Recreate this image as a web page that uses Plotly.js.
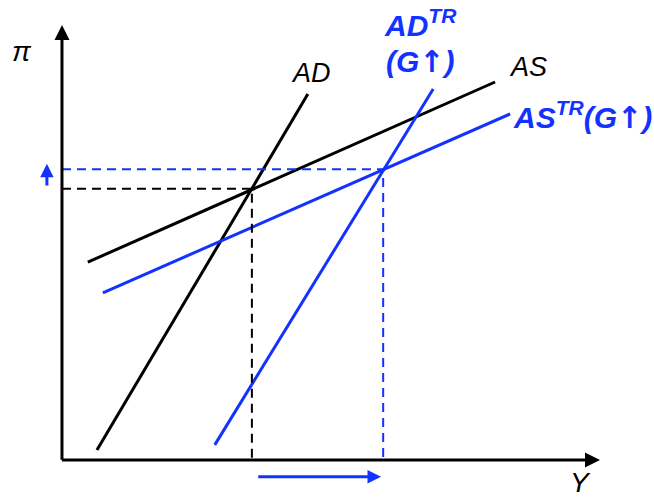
<!DOCTYPE html>
<html><head><meta charset="utf-8">
<script src="https://cdn.plot.ly/plotly-3.0.1.min.js"></script>
<style>html,body{margin:0;padding:0;background:#fff}#chart{width:654px;height:502px}</style>
</head><body><div id="chart"></div>
<script>
// Curve endpoints (x = output Y, y = inflation π), arbitrary units
const adX = [6.5, 45.7], adY = [2.3, 84.7];
const asX = [4.8, 80.5], asY = [45.8, 87.5];
const adTrX = [28.4, 69.0], adTrY = [3.5, 85.9];
const asTrX = [7.6, 83.3], asTrY = [38.7, 80.1];
// Equilibria
const eq1 = [35.3, 62.8];
const eq2 = [59.7, 67.3];
const black = '#000000', blue = '#1432ff';
const fontFam = 'Liberation Sans, Arial, sans-serif';
const up = '<span style="font-family:DejaVu Sans">↑</span>';

const traces = [
  {x: adX, y: adY, mode: 'lines', line: {color: black, width: 3}},
  {x: asX, y: asY, mode: 'lines', line: {color: black, width: 3}},
  {x: adTrX, y: adTrY, mode: 'lines', line: {color: blue, width: 3}},
  {x: asTrX, y: asTrY, mode: 'lines', line: {color: blue, width: 3}},
  {x: [0, eq1[0], eq1[0]], y: [eq1[1], eq1[1], 0], mode: 'lines', line: {color: black, width: 2, dash: '9px,6px'}},
  {x: [0, eq2[0], eq2[0]], y: [eq2[1], eq2[1], 0], mode: 'lines', line: {color: blue, width: 2, dash: '9px,6px'}}
].map(t => Object.assign(t, {hoverinfo: 'skip', showlegend: false}));

function arrow(x, y, ax, ay, color, w, size) {
  return {x: x, y: y, ax: ax, ay: ay, xref: 'x', yref: 'y', axref: 'x', ayref: 'y',
    text: '', showarrow: true, arrowhead: 2, arrowsize: size, arrowwidth: w,
    arrowcolor: color, standoff: 0, startstandoff: 0};
}
function label(x, y, text, color, size, extra) {
  return Object.assign({x: x, y: y, xref: 'x', yref: 'y', text: text, showarrow: false,
    font: {family: fontFam, size: size, color: color}}, extra || {});
}

const annotations = [
  arrow(0, 100.7, 0, -0.3, black, 3, 1),
  arrow(100, 0, -0.3, 0, black, 3, 1),
  arrow(-2.8, 68.6, -2.8, 63.2, blue, 3, 0.9),
  arrow(59.3, -3.9, 36.2, -3.9, blue, 3, 0.9),
  label(-7.4, 94.6, '<i>π</i>', black, 28),
  label(96.3, -5.2, '<i>Y</i>', black, 28),
  label(46.3, 89.5, '<i>AD</i>', black, 27),
  label(86.6, 91.0, '<i>AS</i>', black, 27),
  label(66.7, 101.2, '<b><i>AD<sup>TR</sup></i></b>', blue, 30),
  label(66.5, 92.3, '<b><i>(G' + up + ')</i></b>', blue, 30),
  label(96.8, 79.7, '<b><i>AS<sup>TR</sup>(G' + up + ')</i></b>', blue, 30)
];

const layout = {
  width: 654, height: 502,
  margin: {l: 0, r: 0, t: 0, b: 0},
  paper_bgcolor: '#fff', plot_bgcolor: '#fff',
  xaxis: {range: [-11.52, 110.04], visible: false, fixedrange: true},
  yaxis: {range: [-9.72, 106.48], visible: false, fixedrange: true},
  annotations: annotations,
  showlegend: false
};
Plotly.newPlot('chart', traces, layout, {displayModeBar: false, staticPlot: true});
</script></body></html>
